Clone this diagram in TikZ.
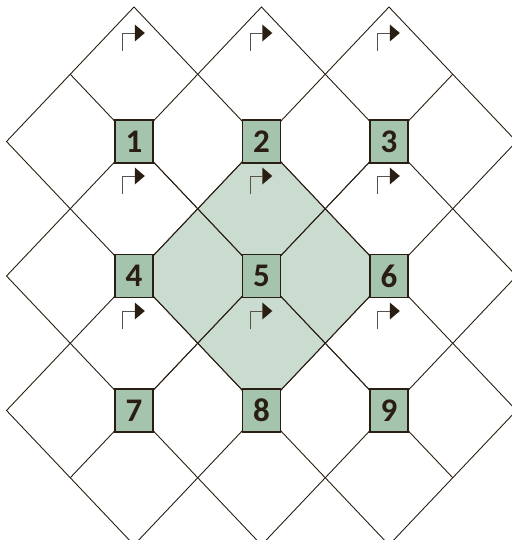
\documentclass[tikz,border=0pt]{standalone}
\usepackage{fontspec}
\setmainfont{Carlito}
\usetikzlibrary{backgrounds}
\definecolor{boxfill}{HTML}{A4C4AD}
\definecolor{diamondfill}{HTML}{C9DCCF}
\definecolor{ink}{HTML}{2A1E12}
\definecolor{stemgray}{HTML}{5A524A}
\begin{document}
\begin{tikzpicture}[x=1pt,y=-1pt,
  cell/.style={draw=ink, fill=boxfill, line width=1.4pt, minimum width=38pt,
    minimum height=43pt, inner sep=0pt,
    font=\fontsize{33}{33}\selectfont\bfseries, text=ink},
  gridline/.style={draw=ink, line width=0.9pt, line join=miter},
  turn/.pic={
    \draw[stemgray, line width=0.9pt] (-12,18) -- (-12,0) -- (0,0);
    \fill[ink] (0,-8.5) -- (10,0) -- (0,8.5) -- cycle;
  }]
\useasboundingbox (0,0) rectangle (511,540);
\clip (0,0) rectangle (511,540);
% nodes
\node[cell] (n1) at (134,141.5) {1};
\node[cell] (n2) at (261.5,141.5) {2};
\node[cell] (n3) at (389,141.5) {3};
\node[cell] (n4) at (134,276) {4};
\node[cell] (n5) at (261.5,276) {5};
\node[cell] (n6) at (389,276) {6};
\node[cell] (n7) at (134,410.5) {7};
\node[cell] (n8) at (261.5,410.5) {8};
\node[cell] (n9) at (389,410.5) {9};
% outer vertices
\coordinate (t1) at (134,7);
\coordinate (t2) at (261.5,7);
\coordinate (t3) at (389,7);
\coordinate (l1) at (6.5,141.5);
\coordinate (l2) at (6.5,276);
\coordinate (l3) at (6.5,410.5);
\coordinate (r1) at (516.5,141.5);
\coordinate (r2) at (516.5,276);
\coordinate (r3) at (516.5,410.5);
\coordinate (b1) at (134,545);
\coordinate (b2) at (261.5,545);
\coordinate (b3) at (389,545);
\coordinate (s1) at (70.25,74.25);
\coordinate (s3) at (452.75,74.25);
\coordinate (s7) at (70.25,477.75);
\coordinate (s9) at (452.75,477.75);
\begin{scope}[on background layer]
  \fill[diamondfill] (n2.center) -- (n6.center) -- (n8.center) -- (n4.center) -- cycle;
  \draw[gridline] (t1) -- (n2.center) -- (n4.center) -- (l1) -- cycle;
  \draw[gridline] (t2) -- (n3.center) -- (n5.center) -- (n1.center) -- cycle;
  \draw[gridline] (t3) -- (r1) -- (n6.center) -- (n2.center) -- cycle;
  \draw[gridline] (n1.center) -- (n5.center) -- (n7.center) -- (l2) -- cycle;
  \draw[gridline] (n2.center) -- (n6.center) -- (n8.center) -- (n4.center) -- cycle;
  \draw[gridline] (n3.center) -- (r2) -- (n9.center) -- (n5.center) -- cycle;
  \draw[gridline] (n4.center) -- (n8.center) -- (b1) -- (l3) -- cycle;
  \draw[gridline] (n5.center) -- (n9.center) -- (b2) -- (n7.center) -- cycle;
  \draw[gridline] (n6.center) -- (r3) -- (b3) -- (n8.center) -- cycle;
  \draw[gridline] (s1) -- (n1.center);
  \draw[gridline] (s3) -- (n3.center);
  \draw[gridline] (s7) -- (n7.center);
  \draw[gridline] (s9) -- (n9.center);
\end{scope}
% turn arrows
\pic at (134.8,33) {turn};
\pic at (262.3,33) {turn};
\pic at (389.8,33) {turn};
\pic at (134.8,176) {turn};
\pic at (262.3,176) {turn};
\pic at (389.8,176) {turn};
\pic at (134.8,311) {turn};
\pic at (262.3,311) {turn};
\pic at (389.8,311) {turn};
\end{tikzpicture}
\end{document}
